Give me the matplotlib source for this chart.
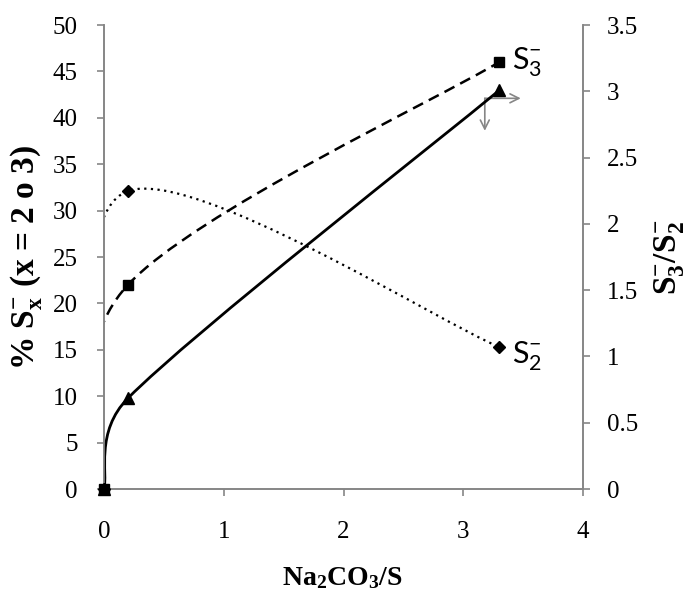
import numpy as np
import matplotlib
matplotlib.use("Agg")
import matplotlib.pyplot as plt
from matplotlib.path import Path
from matplotlib.patches import PathPatch

# --- data -------------------------------------------------------------
na2co3_s = [0, 0.2, 3.3]          # Na2CO3/S molar ratio
pct_s3 = [0, 22, 46]              # % S3-
pct_s2 = [0, 32.1, 15.3]          # % S2-
s3_over_s2 = [0, 0.685, 3.007]    # S3-/S2- ratio (right axis)

x_ticks = [0, 1, 2, 3, 4]
left_ticks = [0, 5, 10, 15, 20, 25, 30, 35, 40, 45, 50]
right_ticks = [0, 0.5, 1, 1.5, 2, 2.5, 3, 3.5]

plt.rcParams.update({
    "font.family": ["Liberation Serif", "DejaVu Serif"],
    "mathtext.fontset": "custom",
    "mathtext.rm": "Liberation Serif",
    "mathtext.it": "Liberation Serif:italic",
    "mathtext.bf": "Liberation Serif:bold",
    "mathtext.sf": "Lato",
})

SPINE = "#868686"


def smooth_path(axes, xs, ys):
    """Spreadsheet-style smoothed line built in screen space: cubic Bezier
    segments whose handles follow the neighbouring points, capped at half
    the adjacent segment length."""
    trans = axes.transData
    p = trans.transform(np.column_stack([xs, ys]).astype(float))
    n = len(p)
    verts = [p[0]]
    codes = [Path.MOVETO]

    def handles(i):
        prev_pt = p[i - 1] if i > 0 else p[i]
        next_pt = p[i + 1] if i + 1 < n else p[i]
        tangent = next_pt - prev_pt
        d = np.hypot(*tangent)
        if d == 0:
            return p[i], p[i]
        u = tangent / d
        d_prev = np.hypot(*(p[i] - prev_pt))
        d_next = np.hypot(*(next_pt - p[i]))
        back = min(d / 6.0, d_prev / 2.0) if i > 0 else 0.0
        fwd = min(d / 6.0, d_next / 2.0) if i + 1 < n else 0.0
        if i == 0:
            fwd = d / 6.0
        if i == n - 1:
            back = d / 6.0
        return p[i] - u * back, p[i] + u * fwd

    hs = [handles(i) for i in range(n)]
    for i in range(n - 1):
        verts += [hs[i][1], hs[i + 1][0], p[i + 1]]
        codes += [Path.CURVE4] * 3
    verts = trans.inverted().transform(np.array(verts))
    return Path(verts, codes)


fig = plt.figure(figsize=(6.9, 5.9), dpi=100)
ax = fig.add_axes([104 / 690, 1 - 489 / 590, 479 / 690, 464 / 590])
ax2 = ax.twinx()

ax.set_xlim(0, 4)
ax.set_ylim(0, 50)
ax2.set_ylim(0, 3.5)

# smoothed curves
ax.add_patch(PathPatch(smooth_path(ax, na2co3_s, pct_s3), fill=False, ec="black",
                       lw=1.8, ls=(0, (4.5, 2.6)), transform=ax.transData))
ax.add_patch(PathPatch(smooth_path(ax, na2co3_s, pct_s2), fill=False, ec="black",
                       lw=1.6, ls=(0, (1, 2)), transform=ax.transData))
ax2.add_patch(PathPatch(smooth_path(ax2, na2co3_s, s3_over_s2), fill=False, ec="black",
                        lw=2.0, ls="-", transform=ax2.transData))

# markers
ax2.plot(na2co3_s, s3_over_s2, ls="none", marker="^", ms=8, color="black", clip_on=False, zorder=5)
ax2.plot(na2co3_s, np.array(pct_s2) * 3.5 / 50, ls="none", marker="D", ms=6.5, color="black",
         clip_on=False, zorder=6)
ax2.plot(na2co3_s, np.array(pct_s3) * 3.5 / 50, ls="none", marker="s", ms=7.5, color="black",
         clip_on=False, zorder=7)

# axes styling
for a in (ax, ax2):
    a.spines["top"].set_visible(False)
    for s in ("left", "right", "bottom"):
        a.spines[s].set_color(SPINE)
        a.spines[s].set_linewidth(1.2)
    a.tick_params(colors=SPINE, labelcolor="black", length=5, width=1.2, labelsize=18,
                  direction="out")

ax.set_xticks(x_ticks)
ax.set_yticks(left_ticks)
ax2.set_yticks(right_ticks)
ax.set_xticklabels([str(v) for v in x_ticks])
ax.set_yticklabels([str(v) for v in left_ticks])
ax2.set_yticklabels([f"{v:g}" for v in right_ticks])
ax.tick_params(axis="x", pad=18)
ax.tick_params(axis="y", pad=14)
ax2.tick_params(axis="y", pad=12)

ax.set_xlabel(r"Na$_\mathbf{2}$CO$_\mathbf{3}$/S", fontsize=20, fontweight="bold", va="center")
ax.xaxis.set_label_coords(0.497, -0.192)
ax.set_ylabel(r"% S$_\mathbf{x}^\mathbf{-}$ (x = 2 o 3)", fontsize=24, fontweight="bold", va="center")
ax.yaxis.set_label_coords(-0.163, 0.5)
ax2.set_ylabel(r"S$_\mathbf{3}^\mathbf{-}$/S$_\mathbf{2}^\mathbf{-}$", fontsize=24, fontweight="bold",
               va="center", rotation=90)
ax2.yaxis.set_label_coords(1.18, 0.5)

# series labels
ax.text(3.41, 46, r"$\mathsf{S}_\mathsf{3}^\mathsf{-}$", fontsize=22, va="center", ha="left")
ax.text(3.41, 14.3, r"$\mathsf{S}_\mathsf{2}^\mathsf{-}$", fontsize=22, va="center", ha="left")

# axis-direction arrows
arrow_kw = dict(arrowstyle="->", color=SPINE, lw=1.2, mutation_scale=16, shrinkA=0, shrinkB=0)
ax.annotate("", xy=(3.48, 42.1), xytext=(3.18, 42.1), arrowprops=arrow_kw)
ax.annotate("", xy=(3.18, 38.6), xytext=(3.18, 42.1), arrowprops=arrow_kw)

fig.savefig("out.png", dpi=100)
